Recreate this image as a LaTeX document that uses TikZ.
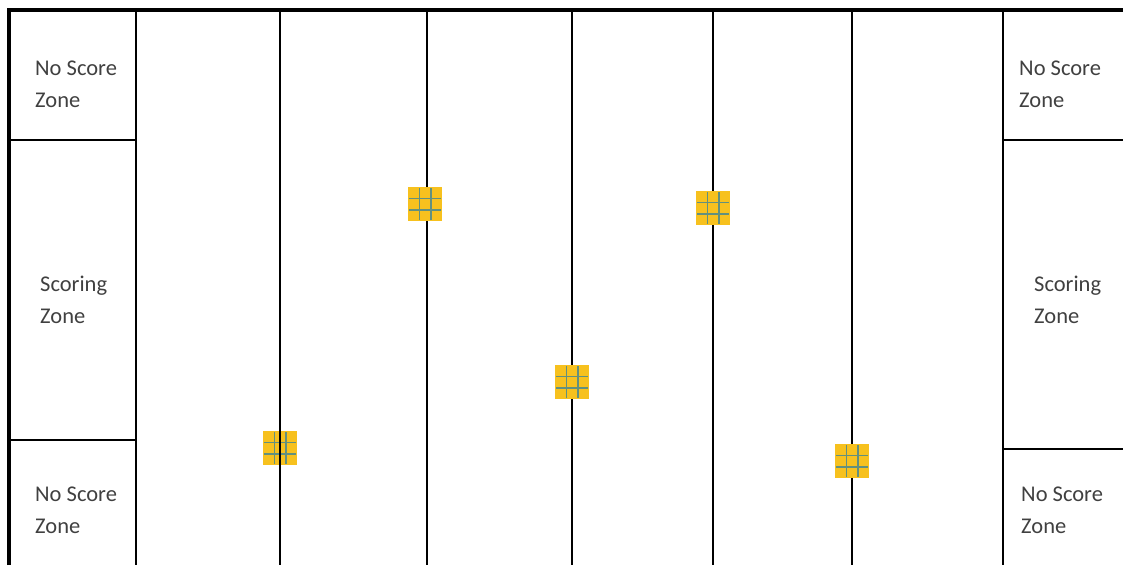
\documentclass[tikz,border=0pt]{standalone}
\usepackage{fontspec}
\setmainfont{Carlito}
\definecolor{zonetext}{HTML}{404040}
\definecolor{padfill}{HTML}{F7C11E}
\definecolor{padgrid}{HTML}{62907E}
\tikzset{
  border/.style={line width=4pt, black},
  thin/.style={line width=2pt, black},
  zonelabel/.style={font=\fontsize{22.5}{32}\selectfont, text=zonetext, align=left, anchor=west, inner sep=0pt},
}
\newcommand{\padsq}[3]{%
  \begin{scope}[shift={(#1,#2)}]
    \fill[padfill] (-17,-17) rectangle (17,17);
    \draw[padgrid, line width=1.6pt] (-5.7,-16) -- (-5.7,16) (5.7,-16) -- (5.7,16)
      (-16,-5.7) -- (16,-5.7) (-16,5.7) -- (16,5.7);
    \node[inner sep=0pt, minimum size=34pt] (#3) at (0,0) {};
  \end{scope}}
\begin{document}
\begin{tikzpicture}[x=1pt, y=-1pt]
\useasboundingbox (0,0) rectangle (1123,565);
% pad under line (first)
\padsq{280}{448}{p1}
% field lines
\foreach \x/\n in {280/a,427/b,572/c,713/d,852/e} {
  \coordinate (t\n) at (\x,10);
  \coordinate (b\n) at (\x,565);
  \draw[thin] (t\n) -- (b\n);
}
% left column
\coordinate (L1) at (136,10); \coordinate (L2) at (136,565);
\draw[thin] (L1) -- (L2);
\draw[thin] (9,140) -- (136,140);
\draw[thin] (9,440) -- (136,440);
% right column
\coordinate (R1) at (1003,10); \coordinate (R2) at (1003,565);
\draw[thin] (R1) -- (R2);
\draw[thin] (1003,140) -- (1123,140);
\draw[thin] (1003,449) -- (1123,449);
% borders
\draw[border] (9,565) -- (9,10) -- (1123,10);
% pads on top
\padsq{425}{204}{p2}
\padsq{572}{382}{p3}
\padsq{713}{208}{p4}
\padsq{852}{461}{p5}
% labels
\node[zonelabel] (lt) at (35,84) {No Score\\Zone};
\node[zonelabel] (lm) at (40,300) {Scoring\\Zone};
\node[zonelabel] (lb) at (35,510) {No Score\\Zone};
\node[zonelabel] (rt) at (1019,84) {No Score\\Zone};
\node[zonelabel] (rm) at (1034,300) {Scoring\\Zone};
\node[zonelabel] (rb) at (1021,510) {No Score\\Zone};
\end{tikzpicture}
\end{document}
